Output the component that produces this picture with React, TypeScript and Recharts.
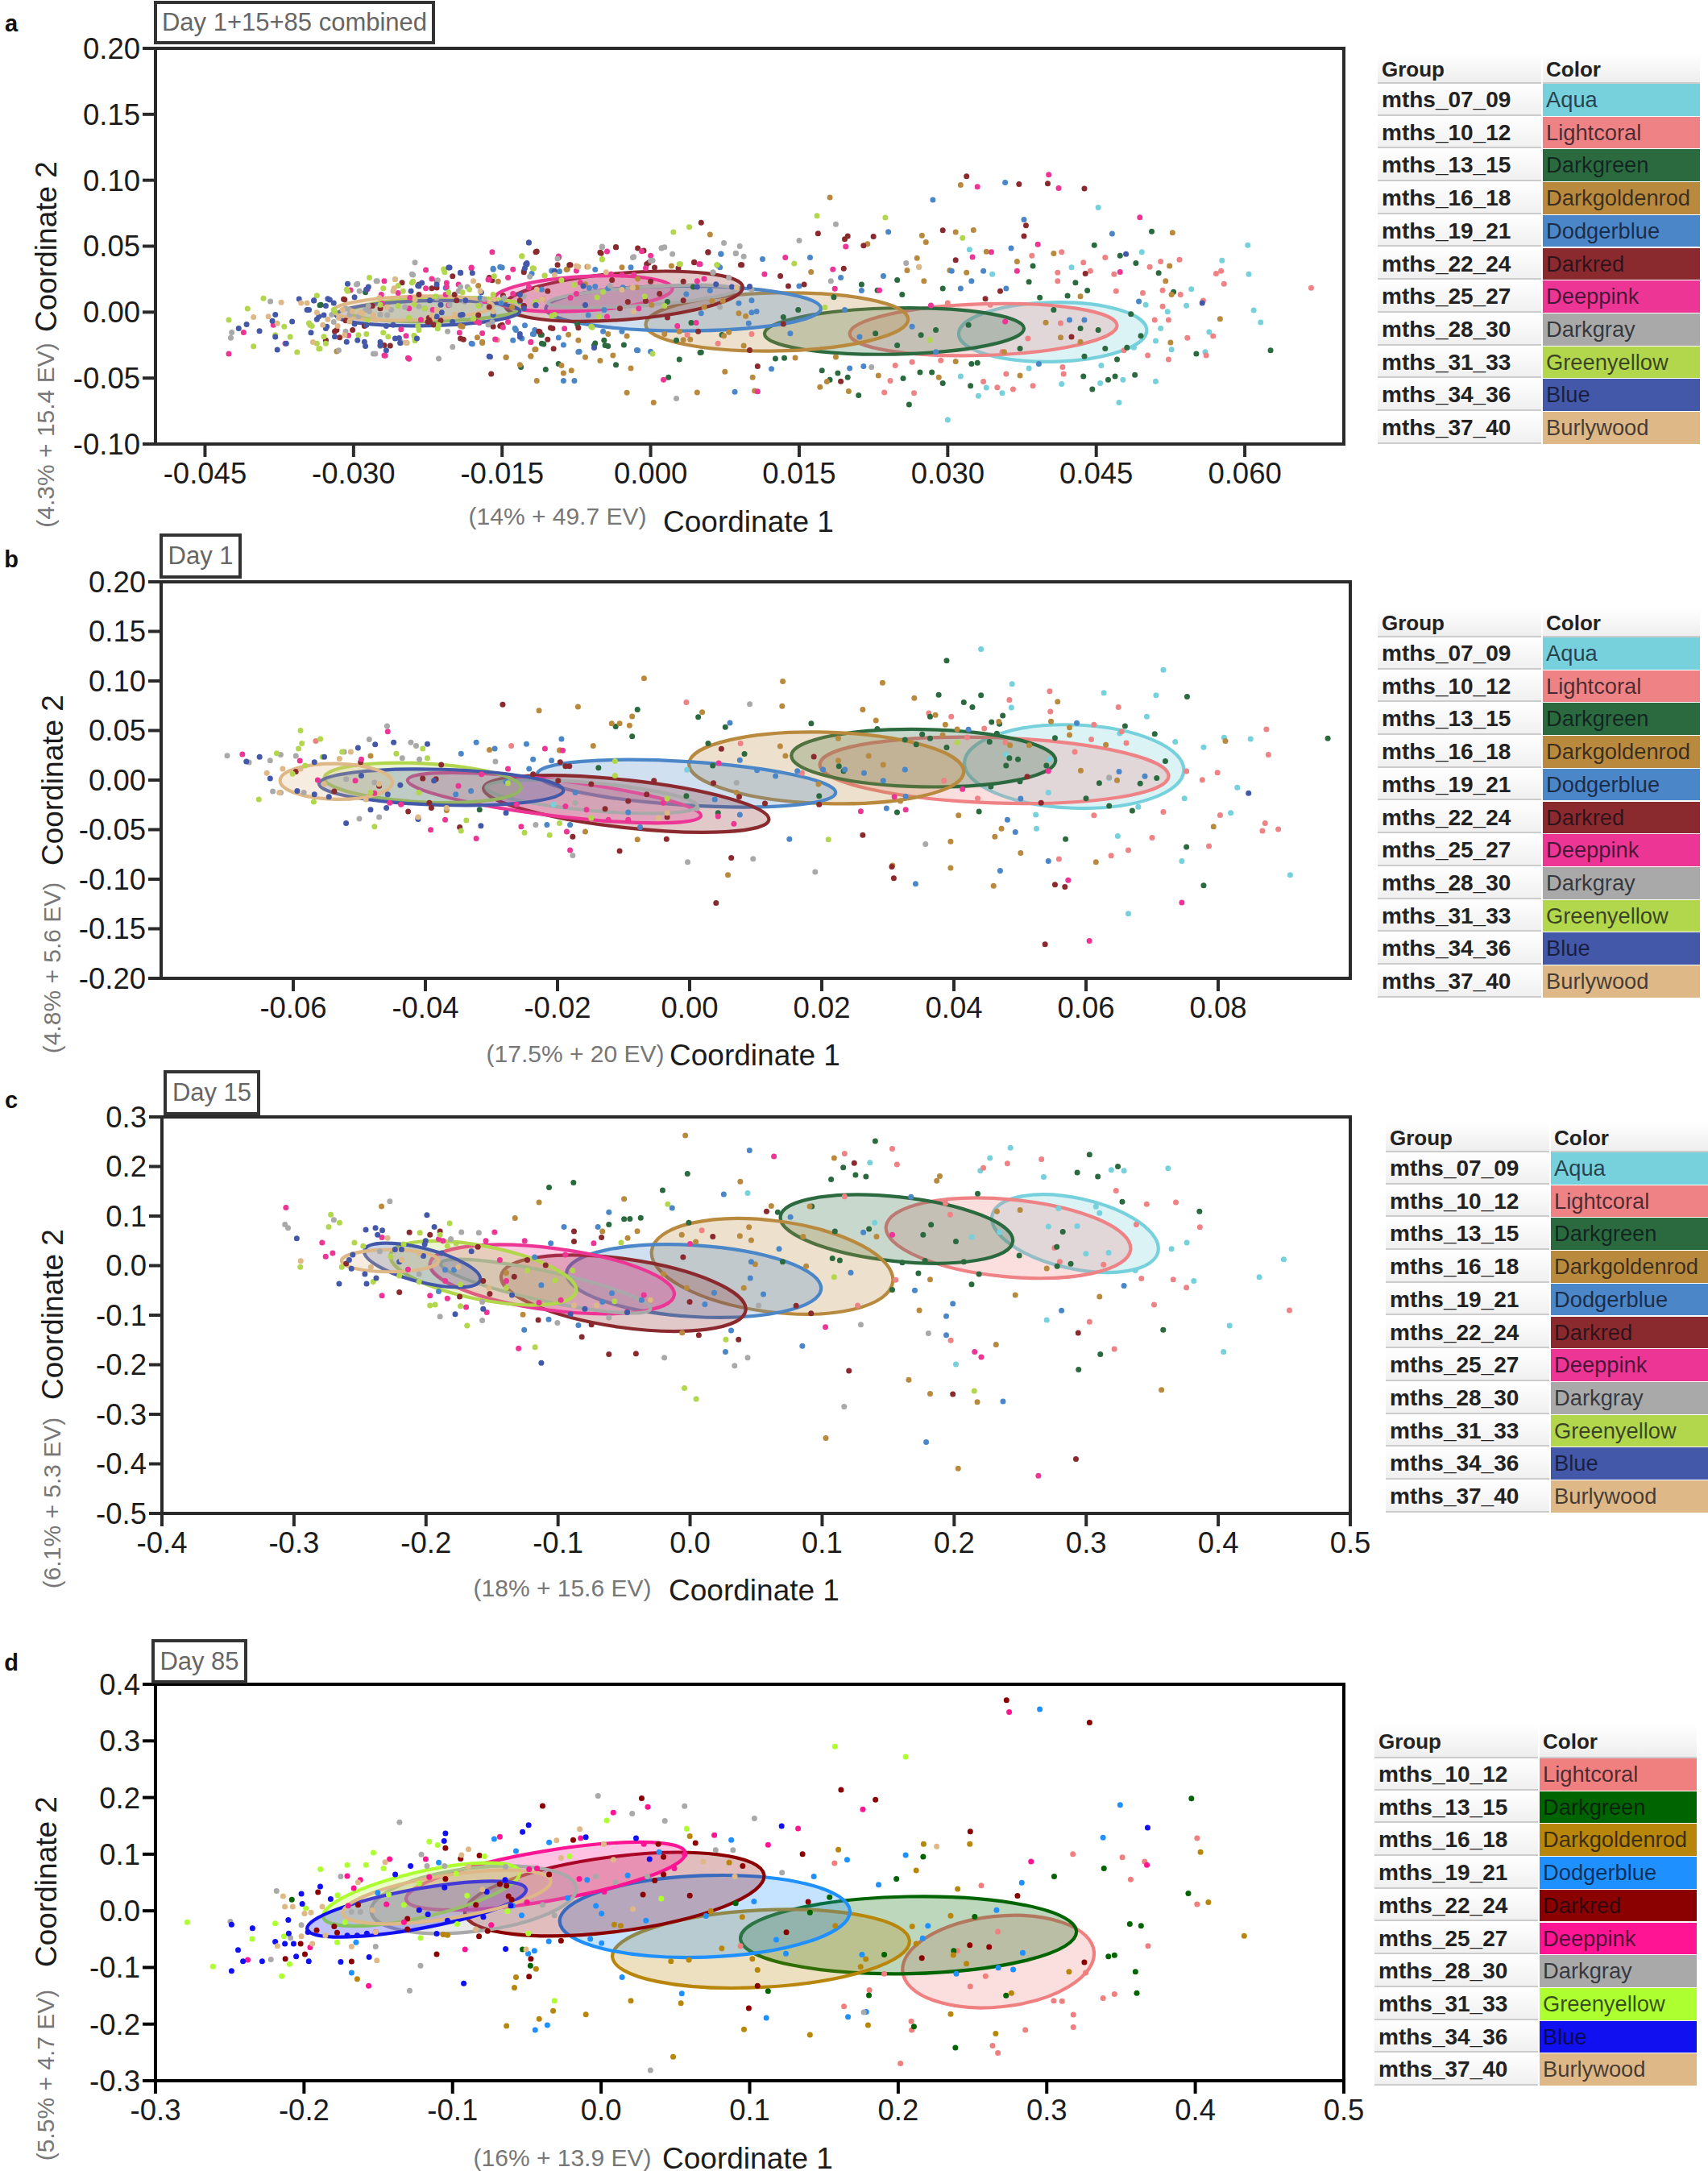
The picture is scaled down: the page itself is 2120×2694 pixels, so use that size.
import React from 'react';
import { ScatterChart, Scatter, XAxis, YAxis, ReferenceArea } from 'recharts';

type Pt = number[];

const groupNames = ['mths_07_09', 'mths_10_12', 'mths_13_15', 'mths_16_18', 'mths_19_21', 'mths_22_24', 'mths_25_27', 'mths_28_30', 'mths_31_33', 'mths_34_36', 'mths_37_40'];
const colorNames = ['Aqua', 'Lightcoral', 'Darkgreen', 'Darkgoldenrod', 'Dodgerblue', 'Darkred', 'Deeppink', 'Darkgray', 'Greenyellow', 'Blue', 'Burlywood'];
const mutedColors = ['#76d1dd', '#ee8285', '#2b6a3f', '#b98a3e', '#4a86c8', '#8a2a2e', '#ec3594', '#a9a9a9', '#b2d64c', '#4358a8', '#deb887'];
const pureColors = ['#76d1dd', '#f08080', '#006400', '#b8860b', '#1e90ff', '#8b0000', '#ff1493', '#a9a9a9', '#adff2f', '#1010f0', '#deb887'];

// ---------- panel a ----------
const aAqua: Pt[] = [[.0603,.0507],[.0452,.0794],[.0577,.0392],[.0604,.0287],[.0609,.0015],[.0616,-.0077],[.0496,.0456],[.0546,.0174],[.0541,.0049],[.0522,.0003],[.0515,-.0123],[.051,-.0218],[.0526,-.0284],[.051,-.0525],[.0473,-.0686],[.03,-.0817],[.0415,-.0545],[.0331,-.0635],[.0355,-.0614],[.0339,-.0573],[.0313,-.0486],[.0477,-.0512],[.0454,-.0538],[.0382,-.0425],[.0455,-.0404],[.0322,.0474],[.0425,.034],[.0345,.0287],[.056,-.0302],[.0564,-.0151],[.05,.0056],[.0488,-.0269]];
const aCoral: Pt[] = [[.0667,.0184],[.0576,.0312],[.0571,.0292],[.0579,.0215],[.0558,.0087],[.0568,-.0182],[.0561,-.0328],[.0542,-.0195],[.0523,-.0358],[.0502,-.0328],[.0523,-.0059],[.0509,-.0059],[.0517,.0044],[.0535,.0133],[.0517,.0166],[.0497,.0146],[.0534,.0397],[.0515,.0384],[.0504,.0343],[.0459,.0415],[.0468,.0287],[.047,.0159],[.0444,.0312],[.0437,.0376],[.0411,.03],[.0411,.0235],[.0415,.0456],[.0385,.0428],[.0416,-.0417],[.0417,-.0468],[.0386,-.0558],[.0366,-.0584],[.035,-.0571],[.0359,-.0468],[.0336,-.0527],[.0266,-.0614],[.0236,-.0609],[.0242,-.052],[.0247,-.0404],[.0264,-.0379],[.03,.0069],[.0343,.0056],[.0414,-.0084],[.0381,-.02],[.0355,-.0302],[.0293,-.0366],[.0478,-.0289],[.0037,-.0172],[.0068,-.0238],[.0102,-.0166],[-.0155,-.0211]];
const aGreen: Pt[] = [[.0626,-.0289],[.0551,-.0315],[.0528,.0154],[.0513,.0297],[.049,.0371],[.0474,.0428],[.0506,.0612],[.0448,.0507],[.0441,.0164],[.0429,.0223],[.0421,.0125],[.0393,.011],[.0386,.0351],[.0382,.023],[.0485,-.0015],[.0495,-.0179],[.0481,-.0269],[.0471,-.0358],[.0489,-.0476],[.0469,-.0486],[.0462,-.0512],[.0446,-.0584],[.0437,-.0486],[.0459,-.0276],[.0438,-.0335],[.0434,-.0123],[.0452,-.0136],[.0407,.0018],[.0373,-.0276],[.033,-.0384],[.0324,-.0392],[.0323,-.0558],[.0295,-.0538],[.0284,-.0456],[.0272,-.0456],[.0261,-.0701],[.0255,-.0502],[.021,-.063],[.0199,-.0494],[.0189,-.0463],[.0181,-.0512],[.0173,-.0443],[.0273,-.0174],[.0321,-.0097],[.0288,-.0136],[.0249,-.0251],[.0227,-.0161],[.0213,.021],[.0249,.0243],[.0254,.0133],[.0295,.0179],[.0229,.0166],[.0185,.0113],[.0149,.0018],[.0134,-.0038],[.0135,-.0348],[.0126,-.0353],[.005,-.0307],[-.0106,-.0435],[-.0131,-.0417],[-.0093,-.0392],[-.011,-.0238],[-.0046,-.0251],[-.0057,-.0251],[-.0035,-.04],[.0029,-.0358],[.0018,-.0494],[-.0333,.0056],[-.0334,.0052],[-.0288,.015],[-.011,-.0172],[-.0108,-.0242],[.0043,.0191],[.0017,.0079],[.0041,-.008],[.0072,-.0172],[.0026,-.0213],[.0051,-.0305],[-.0056,-.0237],[-.0047,-.0213],[-.0043,-.0258],[-.0027,-.0248],[-.0074,-.0091],[-.0111,-.0172]];
const aGold: Pt[] = [[.0181,.087],[.0313,.0965],[.0527,.0602],[.0575,-.0051],[.0524,.0351],[.052,.0236],[.0525,-.023],[.0434,.012],[.037,.0384],[.0407,.0445],[.0339,.0458],[.0302,.0317],[.0319,.03],[.0308,.0607],[.0326,.0622],[.0274,.0581],[.0278,.053],[.0269,.041],[.0259,.0317],[.0276,.0236],[.006,.0589],[.0162,.0305],[.0219,.0517],[.0526,.0133],[.0434,-.0225],[.0414,-.0192],[.0399,-.0079],[.0357,-.0302],[.0291,-.0494],[.0308,-.0374],[.0373,-.0481],[.023,-.0481],[.02,-.06],[.0171,-.0568],[.0178,-.0527],[.0103,-.0494],[.0105,-.0596],[.0075,-.0451],[.0047,-.0609],[.0146,-.0346],[.0187,-.034],[-.0024,-.061],[.0003,-.0686],[-.0088,-.0463],[-.008,-.0443],[-.0115,-.0521],[-.009,-.0405],[-.0146,-.0341],[-.0121,-.0333],[-.0132,-.04],[-.0066,-.0341],[-.0051,-.0367],[-.0038,-.0328],[-.017,-.0225],[-.019,-.011],[-.002,-.0425],[-.0317,-.0297],[-.0084,.0326],[-.0064,.0344],[-.0192,-.0105],[-.0175,-.0192],[-.017,-.0233],[-.0146,-.0343],[-.0121,-.0335],[-.0116,-.0282],[-.0154,.0232],[-.0174,.0201],[-.014,.0038],[-.0029,.034],[-.0085,.0323],[.0021,.035],[-.0066,.0211],[-.0014,.0187],[-.0013,.0252],[.0001,.0054],[.0054,.0038],[.0062,.0085],[.0073,.0085],[.0089,-.0009],[.0096,-.003],[-.0043,-.0166],[-.0024,-.0182],[-.0083,-.017],[-.0073,-.0213],[.0014,-.0166],[.0029,-.0146],[.0033,-.0211],[.004,-.0207],[.0074,-.018],[.0079,-.0152],[.0094,-.0254],[-.0117,-.0283]];
const aDodger: Pt[] = [[.0285,.0851],[.0358,.0983],[.0377,.0701],[.0466,.0594],[.0364,.0484],[.0336,.0312],[.024,.0609],[.0161,.0415],[.0113,.0402],[.0192,.0261],[.0235,.0274],[.0313,.0179],[.0359,.0179],[.0304,.0312],[.0324,.0236],[.0423,-.0059],[.0438,-.0059],[.0493,.0082],[.0213,.0164],[.0196,.0018],[.0141,-.0161],[.0122,-.043],[.0085,-.0604],[.0201,-.0425],[.0215,-.041],[.0071,.044],[.015,.0197],[.0107,.0005],[.0264,-.011],[.0392,-.0392],[.0288,-.0302],[.0211,-.0187],[-.0077,-.052],[-.0088,-.052],[-.0181,-.0238],[-.0137,-.0123],[-.0013,-.0289],[-.0073,-.0302],[-.0159,.0325],[-.0099,.0312],[-.015,.0338],[-.0062,.0184],[-.011,.0172],[-.013,-.02],[-.0117,-.0136],[-.0172,.0108],[-.0207,.0184],[-.0132,.0082],[-.0159,.033],[-.0152,.0342],[-.0139,-.0213],[-.018,-.0241],[-.0136,-.0135],[-.0118,-.0166],[-.0151,.0069],[-.0128,.0313],[-.0123,.0527],[.0071,.0442],[-.0056,.0323],[-.002,.034],[.0068,.0354],[.007,.034],[-.01,.0313],[-.0092,.0309],[-.012,.0293],[-.0056,.0195],[-.0028,.0187],[-.0043,.0181],[.006,.0164],[.0036,.0136],[-.0047,.0017],[-.0063,-.0023],[.0051,-.0009],[.0089,.0068],[.0102,.0089],[.0102,-.0003],[-.0127,-.0101],[-.0119,-.0166],[-.0093,-.0193],[-.0088,-.0248],[-.0048,-.0146],[-.0029,-.0146],[-.0072,-.0299],[-.0014,-.0288],[0,-.0299],[.0099,-.0085]];
const aRed: Pt[] = [[.0319,.103],[.0372,.097],[.0401,.0975],[.0438,.0937],[.0379,.0658],[.0377,.0576],[.0295,.062],[.0169,.0596],[.0196,.0553],[.0199,.0576],[.0225,.0573],[.0215,.0504],[.0051,.0678],[.0058,.0453],[.0092,.0358],[.0131,.0274],[.0195,.033],[.0044,.0376],[.0308,.0394],[.0439,.0292],[.0353,.0159],[.0338,.0102],[.0425,-.0187],[.0139,.0197],[.0155,.021],[.0134,-.009],[.0108,-.041],[.0192,-.0525],[-.0116,.0456],[-.0035,.0492],[-.0051,.0453],[-.0013,.0484],[-.0007,.0466],[-.0093,.0415],[-.0082,.0358],[-.0161,-.0469],[-.0192,-.02],[-.0099,-.0123],[-.0112,-.0149],[-.0223,-.0072],[-.0216,.0185],[-.0234,.021],[-.0269,-.0251],[-.0317,-.0136],[-.0309,.0095],[-.0251,.0223],[-.0328,-.0213],[-.015,-.0097],[-.0163,.0262],[-.0198,.0133],[.0004,.0338],[-.0004,.0364],[-.031,.0099],[-.0221,.0181],[-.0234,.0134],[-.0196,.0089],[-.0163,.0038],[-.0149,.0126],[-.0132,.0089],[-.0128,.0048],[-.0109,.0099],[-.0113,-.0146],[-.0159,-.011],[-.0152,-.0105],[-.0174,-.0023],[-.0212,-.0064],[-.0224,-.0044],[-.0219,-.0095],[-.0225,-.0074],[-.0308,-.0064],[-.0319,-.0146],[-.0314,-.0192],[-.0301,-.0135],[-.0289,-.0105],[-.0263,-.0254],[-.0189,-.0207],[-.02,.0273],[-.016,.0242],[-.0128,.0303],[-.0273,.0028],[-.0281,.0048],[-.0115,.046],[-.0035,.0493],[.0058,.0456],[.0091,.0358],[.0044,.0379],[-.0081,.0358],[-.0094,.0358],[-.005,.0446],[-.0002,.0374],[.0028,.0334],[-.0039,.0243],[0,.0232],[.0033,.0232],[.0009,.014],[.0033,.0089],[-.0005,.0085],[-.0023,.0079],[-.0031,.0028],[-.0104,.016],[.0017,-.004],[.0048,-.0146],[-.0073,-.0119],[-.0101,-.0119],[-.0104,-.0207],[-.0098,-.0278],[.01,-.0288],[-.0128,.0048]];
const aPink: Pt[] = [[.0402,.1043],[.033,.095],[.0412,.094],[.0494,.0719],[.0391,.0514],[.0344,.0456],[.0325,.0417],[.037,.0312],[.0474,.0305],[.0197,.0497],[.0136,.0415],[.0184,.0325],[.0115,.0287],[.0186,.0177],[.0231,.0166],[.0108,-.0602],[.005,.0364],[.0283,.0051],[.0358,-.0072],[-.016,.0456],[-.0093,.0423],[-.0227,.032],[-.0181,.0338],[-.0163,.0248],[-.0245,-.0348],[-.0269,-.0328],[-.0426,-.0315],[-.0411,-.0154],[-.0381,-.0097],[-.0369,-.0238],[-.0216,.0236],[-.0194,.021],[-.0157,-.0205],[0,.0428],[-.0269,.0236],[-.0287,.0172],[-.0207,.0133],[-.0176,-.0072],[-.004,.0287],[-.0071,.0223],[.0013,-.0513],[-.0221,.0252],[-.0206,.0222],[-.0206,.0191],[-.0181,.0334],[-.0139,.0324],[-.0144,.0262],[-.0164,.0246],[-.0255,.0146],[-.0286,.0175],[-.0303,.0167],[-.0272,.0134],[-.0243,.0109],[-.0227,.0181],[-.022,.0018],[-.0244,.0028],[-.0204,.0052],[-.0168,.0083],[-.0139,.014],[-.0149,-.0115],[-.0173,-.008],[-.0144,-.0074],[-.0123,.0187],[-.0232,-.0058],[-.0252,-.0131],[-.0247,-.018],[-.0305,-.0176],[-.0268,-.0329],[-.0244,-.0354],[-.0193,-.0156],[-.017,-.016],[-.0121,-.0227],[-.0271,.0064],[-.0285,.0018],[-.0044,.046],[-.0009,.0462],[.0049,.0364],[.0027,-.0105],[.0046,-.008],[-.0005,.0334],[-.0075,.0313],[-.0123,.0187],[-.0081,.0109],[-.0075,.014],[-.0012,.0028],[-.0044,-.0034],[.0054,.0252],[.0047,.0236],[-.0029,.0283],[-.0017,.0283],[-.0121,-.0227],[-.0087,-.0125]];
const aGray: Pt[] = [[.0187,.0666],[.015,.0543],[.0074,.0525],[.009,.05],[.0086,.0445],[.0094,.0422],[.0182,.0235],[.0258,.0371],[.0271,.0343],[.0063,.03],[.0223,-.0417],[-.0238,.0376],[-.0241,.0287],[-.0049,.0492],[-.0018,.0415],[0,.039],[.0011,.0484],[.0022,.044],[.0026,-.0655],[-.0214,-.0353],[-.02,-.0264],[-.028,-.0315],[-.0315,-.029],[-.0423,-.0154],[-.0424,-.0195],[-.0384,.0082],[-.0297,.021],[-.0277,.0236],[-.0252,-.0226],[-.0304,-.002],[-.0295,-.0033],[-.0284,.0005],[-.0273,-.002],[-.0234,.0044],[-.0216,.0108],[-.0194,.0159],[-.0172,.0056],[-.0203,.0056],[-.0322,-.002],[-.0296,.0215],[-.0276,.0236],[-.0294,.016],[-.024,.0283],[-.0215,.0242],[-.032,-.0074],[-.0308,-.0146],[-.0278,-.0315],[-.0273,-.0258],[-.0252,-.0233],[-.0205,-.0146],[-.0164,-.0095],[-.0122,.0269],[-.0185,.0191],[-.0192,.0191],[-.016,-.0074],[-.0266,-.0023],[-.0285,.0048],[-.0304,.0018],[-.0308,.0028],[-.0288,.0018],[-.0262,.0018],[-.0248,.0038],[-.0228,.0028],[-.0212,.0058],[-.0188,.0078],[-.0168,.0098],[-.0148,.0108],[-.0128,.0118],[-.0049,.0497],[.0011,.0487],[.0014,.0493],[-.0017,.0419],[.0002,.0391],[-.0094,.0405],[.0086,.0446],[.0063,.0303],[.0079,.0262],[.007,.0038],[.0102,.017],[-.0041,.0201],[-.0097,.0293]];
const aLime: Pt[] = [[.0168,.073],[.0237,.0717],[.0039,.0645],[.0315,.0563],[.0145,.0369],[.0067,.0358],[.0176,.0036],[.0282,-.0212],[.0023,.0607],[-.0049,.0402],[-.013,.0423],[.0029,.0364],[-.0391,.0105],[-.0407,.0026],[-.0426,-.0059],[-.0401,-.0259],[-.0379,-.0174],[-.037,-.011],[-.0364,-.0187],[-.0357,-.0303],[-.0344,-.0097],[-.0335,-.0277],[-.0328,-.0238],[-.0337,.0126],[-.032,.0018],[-.0306,.0159],[-.0284,.0262],[-.0258,.0249],[-.0241,.0223],[-.0238,-.02],[-.0209,.0326],[-.0183,.0172],[-.0159,.0133],[-.0097,-.002],[-.006,-.011],[.0002,-.0315],[-.0214,-.0097],[-.0295,-.0174],[-.0273,.0056],[-.0307,.0171],[-.027,.0181],[-.0255,.0201],[-.024,.0232],[-.025,.016],[-.0208,.0303],[-.0319,.0007],[-.0345,-.0084],[-.0342,-.0105],[-.033,-.0186],[-.0337,-.0238],[-.0334,-.0278],[-.0286,-.0064],[-.0255,.0048],[-.0244,-.0044],[-.0239,.0058],[-.0228,.0028],[-.0215,-.0125],[-.0235,-.0105],[-.0234,-.0135],[-.027,-.0156],[-.0265,-.0186],[-.0239,-.0176],[-.0238,-.0217],[-.0287,-.0166],[-.0217,.012],[-.0204,.015],[-.019,.015],[-.0174,.0048],[-.0179,-.005],[-.0118,.033],[-.0107,.0277],[-.0158,.0273],[-.0116,.0079],[-.013,.0425],[-.0049,.0399],[.003,.0364],[-.0119,.0334],[.0067,.0358],[-.0107,.0277],[-.009,.0242],[-.0077,.0207],[-.0048,.0154],[-.0054,.0112],[-.0006,.0119],[.0014,.0048],[-.01,-.0029],[-.0052,-.0033],[-.0059,-.0115],[-.0117,.0058]];
const aBlue: Pt[] = [[-.0123,.0528],[-.0126,.0364],[-.0163,-.0336],[-.0204,.0338],[-.0192,.03],[-.0216,.021],[-.0234,.0197],[-.0306,.0215],[-.0287,.0172],[-.0355,.01],[-.034,.0087],[-.0326,.0102],[-.0347,.0018],[-.0335,-.0033],[-.0362,-.0072],[-.0382,-.0067],[-.0379,-.002],[-.0408,-.0092],[-.0416,-.0123],[-.0395,-.0143],[-.0379,-.0187],[-.0377,-.0285],[-.0368,-.0238],[-.0328,-.0123],[-.0307,-.0226],[-.0289,-.0226],[-.0267,-.029],[-.0273,-.0251],[-.0258,-.02],[-.0236,-.02],[-.0287,-.0097],[-.026,-.0097],[-.0216,-.0033],[-.019,-.002],[-.0159,-.002],[-.0132,.0133],[-.0212,.0056],[-.0097,.0312],[-.0068,.0197],[.0557,.0069],[.048,.044],[-.0299,.0113],[-.034,.0089],[-.0328,.0048],[-.0324,.0093],[-.032,.0069],[-.0345,.0018],[-.033,-.0023],[-.0337,-.0054],[-.0343,-.0156],[-.0327,-.011],[-.0319,-.0186],[-.0296,-.0213],[-.0288,-.0258],[-.0273,-.0227],[-.0254,-.0196],[-.0253,-.0233],[-.0267,-.0105],[-.0299,-.009],[-.0285,.0191],[-.0242,.016],[-.0231,.0222],[-.0235,.0201],[-.0223,.0089],[-.0211,-.0003],[-.0192,-.0023],[-.02,-.0074],[-.0187,.0089],[-.0171,.015],[-.0128,.0028],[-.0116,.0052],[-.0132,-.0166],[-.0192,.0297],[-.018,.0297],[-.0203,.0338],[-.0125,.0371],[-.0162,-.0339],[-.0066,.0054],[.0047,.0191],[.0066,.0211],[.0082,.0191],[.01,.0195],[-.0125,.0364],[-.0127,.0334],[-.0116,.0052],[-.0132,-.0187],[-.0057,-.027]];
const aBurly: Pt[] = [[-.0373,.0074],[-.0401,-.0038],[-.0386,-.0033],[-.0247,-.0231],[-.0258,.0249],[-.0309,-.0174],[-.0304,-.0072],[-.0291,-.0008],[-.0278,-.0059],[-.026,.0159],[-.0238,.0095],[-.0216,.0018],[-.0198,-.002],[-.0172,.0159],[-.0075,.0351],[-.0115,.0172],[-.0159,.0005],[-.0331,-.0097],[-.0353,.0069],[-.0377,-.0085],[-.011,.0095],[-.0018,.0185],[.0271,.0343],[-.0347,.0069],[-.0337,-.0003],[-.0315,-.0044],[-.0316,-.0105],[-.0301,.0007],[-.0293,-.0003],[-.028,-.0023],[-.0266,.0038],[-.0341,-.0227],[-.0246,-.0233],[-.0259,.0181],[-.0221,-.0023],[-.0179,.0236],[-.0274,.0109],[-.0158,.0099],[-.0311,.0018],[-.0326,-.0054],[-.0073,.0344],[-.0063,.0344],[-.0045,.0303],[-.0029,.017],[-.0017,.0003],[-.0109,.0099],[-.0097,.0283],[.0087,.0187]];
// centre x, centre y, major half-axis x, major half-axis y, minor half-axis
const aEllipses: Pt[] = [[.0406,-.0151,.0095,.0015,.0225],[.0336,-.0133,.0135,.0032,.0195],[.0246,-.0144,.0131,.002,.0175],[.01275,-.0074,.01325,.002,.022],[.0033,.0028,.0139,0,.017],[-.0027,.012,.012,.007,.0177],[-.0068,.014,.009,.004,.013],[-.0009,.012,.0095,.005,.007],[-.0216,.002,.0088,.002,.009],[-.0225,-.0008,.0093,.0015,.0095],[-.024,.003,.0081,.002,.009]];

// ---------- panel b ----------
const bAqua: Pt[] = [[.0441,.1321],[.0717,.1112],[.0488,.0969],[.0627,.088],[.0706,.0856],[.0487,.0732],[.0692,.064],[.0735,.0387],[.0778,.0332],[.0809,.0428],[.0849,.0414],[.0829,-.0075],[.0819,-.0332],[.0749,-.0185],[.0679,-.027],[.0648,-.0565],[.0745,-.0818],[.0909,-.0958],[.0664,-.1348],[.0525,-.0489],[.0524,-.0349],[.0543,-.0127],[.0479,.026],[.0545,.0209],[.0635,.0021],[.0651,.0472],[-.0004,.0103],[-.0206,-.0246]];
const bCoral: Pt[] = [[.0545,.0897],[.0484,.0808],[.0546,.0691],[.0649,.0736],[.0873,.0513],[.0876,.0257],[.0661,.0373],[.0608,.0411],[.0612,.0558],[.0654,.0489],[.0396,.064],[.0362,.0674],[.0446,.052],[.0077,.037],[.0583,.0284],[.0478,.038],[.042,.0431],[-.0005,.0784],[.0752,.0089],[.0799,.0075],[.0776,.0003],[.0717,-.0322],[.0803,-.0353],[.0612,-.0356],[.0871,-.0435],[.0867,-.0513],[.0891,-.0496],[.07,-.0582],[.0786,-.0667],[.0664,-.0708],[.0638,-.0763],[.0559,-.0797],[.0436,-.0185],[.0385,-.0007],[.017,.0072],[-.027,.0346],[-.0566,.0394],[-.0196,.0301]];
const bGreen: Pt[] = [[.0389,.1205],[.0377,.0859],[.0441,.0856],[.0415,.0784],[.0428,.0736],[.0474,.065],[.0457,.0585],[.0469,.0568],[.0364,.064],[.0753,.0842],[.0659,.0544],[.0704,.0465],[.0553,.0424],[.0013,.0637],[.0054,.0534],[.0184,.0572],[.0028,.037],[.0083,.0264],[.0035,.0147],[.0284,.0517],[.0352,.0462],[.0364,.0421],[.0326,.0407],[.0343,.0359],[.0389,.0329],[.0454,.0387],[.0465,.0469],[.0479,.0147],[.0484,.0222],[.0497,.0209],[.054,.0147],[.0456,-.0065],[.05,-.0014],[.072,.0192],[.0707,.0021],[.0682,-.0034],[.062,-.0031],[.06,-.0185],[.0635,-.026],[.067,-.0308],[.0569,-.0595],[.0752,-.0674],[.0778,-.1064],[.0314,-.0325],[.0438,-.0318],[.0226,.014],[.0233,.0092],[.0196,-.0161],[.0043,-.0332],[-.0005,-.0161],[-.0079,.0712],[-.0112,.0541],[-.0087,.0441],[-.0138,.0123],[-.0318,-.0298],[.0966,.0421]];
const bGold: Pt[] = [[.0141,.0996],[.014,.0746],[.0292,.0982],[.034,.0828],[.0262,.0712],[.0282,.0602],[.0372,.0657],[.0557,.0791],[.0547,.0592],[.0575,.053],[.0575,.0455],[.063,.0356],[.0387,.0558],[.0405,.0513],[.0468,.0589],[.0514,.0352],[.0485,.0352],[.0383,.0455],[.0019,.0684],[.0137,.0342],[.0145,.0243],[.0225,.0421],[.0225,.0198],[.0271,.0243],[.0293,.0154],[.0592,.0096],[.0647,-.0003],[.0793,-.0469],[.0811,.0394],[.0472,-.0489],[.0462,-.0572],[.0407,-.0356],[.0395,-.0619],[.0395,-.0886],[.0501,-.0736],[.0615,-.0828],[.046,-.1068],[.0058,-.0958],[.0307,-.0862],[.0195,-.0041],[.0071,-.0127],[.0319,-.0212],[-.0069,.1027],[-.0169,.0739],[-.0228,.0702],[-.0087,.0643],[-.0118,.0572],[-.0106,.0572],[-.0091,.0551],[-.0146,.0346],[-.0303,.0305],[-.0197,.0301],[-.0158,-.052],[-.0079,-.0599],[-.0368,-.0305],[-.0411,-.0383],[-.0483,.0243]];
const bDodger: Pt[] = [[.0061,.0578],[.0586,.0575],[.0422,.051],[.0076,.0202],[.0102,.0099],[.013,.0041],[.0163,.0092],[.0202,.0106],[.0235,.0106],[.0264,.0072],[.0293,-.0007],[.0326,.0106],[.0327,-.0164],[.0298,-.0284],[.0038,-.0195],[.0076,-.0349],[.0151,-.0595],[.0342,-.1047],[.047,-.0914],[.0543,-.0818],[.0493,-.0524],[.0481,-.04],[.0501,-.0188],[.065,.0086],[.0689,.0038],[-.0323,.038],[-.0346,.0267],[-.0247,.0363],[-.0194,.0414],[-.0295,.0318],[-.0237,.0209],[-.0209,.0198],[-.0243,.0113],[-.0331,-.011],[-.0354,-.0144],[-.0173,-.0127],[-.0216,-.0452],[-.0181,-.0452],[-.0075,-.0476],[-.0093,-.0325],[-.0278,-.0017]];
const bRed: Pt[] = [[.0048,.0315],[.0188,.0236],[.0036,-.0031],[.0075,-.0168],[.0114,-.0236],[.0196,-.0246],[.0511,.0034],[.0532,-.0229],[.0262,-.0554],[.0063,-.0784],[.004,-.1239],[.0306,-.0873],[.0309,-.0989],[.0553,-.1054],[.0568,-.1078],[.0538,-.1656],[-.0283,.0763],[-.0196,.0181],[-.0188,.014],[-.0182,.014],[-.0376,.0154],[-.0498,.0181],[-.0596,.0086],[-.0538,-.0113],[-.047,-.0058],[-.0394,-.0229],[-.0391,-.0281],[-.0426,-.0318],[-.0404,.0017],[-.0384,.001],[-.0348,-.0476],[-.0177,-.0572],[-.0106,-.0715],[-.0035,-.0595],[-.0034,-.0373],[-.0128,-.0291],[-.0065,-.0144],[-.0093,-.0212],[-.0149,-.0041],[-.0237,.0058],[-.0054,-.0007],[-.0199,-.0007]];
const bPink: Pt[] = [[.0605,-.1622],[.0745,-.1235],[.0573,-.101],[.0543,.0092],[.0044,.0171],[.0259,-.0315],[.0327,-.0298],[.031,-.0168],[.0413,-.0092],[.0043,-.0366],[.0067,-.0441],[-.0677,.026],[-.0457,.0489],[-.0497,.0209],[-.059,.0195],[-.0563,0],[-.0506,-.0007],[-.0477,-.0133],[-.0454,-.0229],[-.0437,-.0246],[-.037,-.04],[-.0392,-.0503],[-.0323,-.0589],[-.0255,-.0469],[-.0186,-.052],[-.0181,-.0708],[-.0219,.0318],[-.0192,.0298],[-.0275,.0113],[-.035,-.0058],[-.0315,.0058],[-.0262,-.0246],[-.0188,-.0264],[-.0156,-.0298],[-.0093,-.04],[-.0123,-.04],[-.004,-.0229]];
const bGray: Pt[] = [[.0091,.0767],[.0071,-.0027],[.0011,-.0287],[-.0003,-.0828],[.0096,-.0794],[.019,-.0927],[.0357,-.0647],[.0635,.0027],[-.07,.0246],[-.0667,.0178],[-.0619,.0257],[-.0635,.0198],[-.0631,-.0113],[-.0619,-.0127],[-.0596,.0243],[-.0584,-.0127],[-.0523,.0284],[-.0485,.0411],[-.0458,.0544],[-.05,-.039],[-.047,-.0373],[-.0422,.038],[-.0414,.0346],[-.0435,.0222],[-.0409,.0209],[-.0294,.0188],[-.0233,-.0452],[-.0177,-.076],[-.0477,-.0024],[-.052,.001],[-.0173,-.0229]];
const bLime: Pt[] = [[.021,-.0599],[.0405,.038],[-.0589,.05],[-.0559,.0414],[-.0587,.037],[-.0625,.027],[-.0592,.0318],[-.0652,-.0195],[-.0569,-.0219],[-.0601,.0062],[-.0582,.0147],[-.0556,.0233],[-.0526,.0284],[-.0444,.0267],[-.0404,.0318],[-.0397,.0222],[-.0477,-.0469],[-.0346,-.0513],[-.0338,-.0407],[-.025,-.053],[-.0212,-.0554],[-.0197,-.0435],[-.0149,-.0383],[-.0113,.0192],[-.0113,.0044],[-.0034,-.0188],[-.041,-.0127],[-.0483,-.0127],[-.0275,-.0031]];
const bBlue: Pt[] = [[.0846,-.0133],[-.0671,.0188],[-.0651,.0233],[-.0635,.0017],[-.0594,-.011],[-.0568,-.0144],[-.0568,.0181],[-.0553,.0233],[-.0546,-.0168],[-.052,-.0435],[-.0502,.0325],[-.0476,.0359],[-.0448,.038],[-.0397,.0363],[-.0483,-.0298],[-.0459,-.0281],[-.0457,-.0144],[-.0438,-.0051],[-.0411,-.0394],[-.0316,-.0462],[-.0278,-.0332],[-.0387,-.0007],[-.0497,.0044]];
const bBurly: Pt[] = [[-.064,.0072],[-.0621,-.0127],[-.0616,.0113],[-.0513,.0284],[-.0553,-.0041],[-.047,-.0041],[-.0411,-.0373],[-.0368,-.0281],[-.0589,.0113],[-.053,.0216],[-.049,-.0195],[-.0047,-.0383],[-.0034,-.0332]];
const bEllipses: Pt[] = [[.0582,.0137,.0166,-.004,.042],[.0461,.0099,.0264,-.006,.033],[.0354,.0222,.02,-.0025,.029],[.0207,.0123,.0208,-.004,.036],[-.0005,-.0034,.0226,-.0094,.022],[-.0096,-.024,.0216,-.016,.024],[-.0205,-.018,.0222,-.018,.018],[-.0148,-.0168,.016,-.0095,.014],[-.0404,-.0027,.0149,-.005,.0195],[-.0376,-.0072,.0185,-.0034,.018],[-.0535,-.0014,.0085,-.001,.018]];

// ---------- panel c ----------
const cAqua: Pt[] = [[.2426,.238],[.2271,.2169],[.2198,.1915],[.2678,.1789],[.319,.193],[.3286,.1915],[.362,.1965],[.1362,.2077],[.0436,.1465],[.1398,.0866],[.279,.1155],[.3074,.119],[.3101,.1063],[.2714,.0789],[.2932,.0796],[.2132,.0577],[.2344,.0676],[.2998,.0239],[.317,.0261],[.3372,-.0099],[.3646,.0338],[.3762,.0465],[.4496,.0127],[.4311,-.0232],[.3815,-.031],[.4086,-.1211],[.404,-.1739],[.2701,-.1099],[.2013,-.1993]];
const cCoral: Pt[] = [[.1531,.2359],[.117,.2261],[.1567,.2042],[.2221,.1972],[.2403,.2063],[.2661,.2148],[.3226,.1514],[.3458,.1239],[.3679,.1275],[.3379,.0831],[.3861,.0775],[.3131,.0021],[.3418,-.0261],[.3659,-.0282],[.3759,-.0444],[.3514,-.0789],[.4539,-.0901],[.3025,-.1134],[.3213,-.1683],[.1974,-.1507],[.1269,-.0803],[.1557,-.0289],[.197,.1028],[.0089,.0711],[.28,.0077],[.276,.0359],[.1934,.1261],[.117,.1394]];
const cGreen: Pt[] = [[.1402,.2514],[.3025,.2239],[.324,.2],[.2932,.188],[.3088,.1796],[.3273,.1289],[.3858,.1092],[.2178,.1451],[.116,.1979],[.1253,.1831],[.1332,.1796],[.1068,.1739],[.0922,.1197],[.0664,.1077],[-.001,.0866],[-.002,.1852],[.1355,.0739],[.1097,.069],[.1825,.0824],[.1765,.062],[.2013,.0486],[.2823,.0683],[.2777,.038],[.2883,.0035],[.278,-.0014],[.2493,.0204],[.2073,.0077],[.1779,.0099],[.1607,.0063],[.0701,.0077],[.1078,.0148],[.1134,.0106],[.1531,-.0486],[.1729,-.0155],[.2132,-.038],[.2188,-.0169],[.3583,-.1296],[.3107,-.1789],[.2942,-.2099],[-.1068,.1577],[-.0883,.1676],[-.0208,.1521],[-.05,.0937],[-.0456,.0944],[-.0374,.0965],[-.0615,.0831]];
const cGold: Pt[] = [[.1091,.2169],[.1868,.1711],[.1891,.1803],[.038,.1697],[-.0036,.2627],[.0615,.1204],[.0906,.1197],[.2499,.112],[.2324,.1092],[.0446,.0775],[.0377,.0599],[.0463,.0514],[.1412,.0585],[.0856,.0585],[.0493,.0028],[.0879,-.0014],[.0407,-.0451],[.0043,.0479],[.1818,-.0282],[.2701,-.0056],[.2463,-.0592],[.3101,-.0627],[.1736,-.0901],[.2317,-.1592],[.1656,-.2303],[.1818,-.2585],[.2175,-.2754],[.357,-.2507],[.1028,-.3479],[.203,-.4092],[-.0026,-.0451],[-.1144,.1275],[-.1326,.0958],[-.05,.1345],[-.0664,.069],[-.0473,.0556],[-.04,.0697],[-.0063,.062],[-.1266,-.0986],[-.0202,-.0169],[-.0301,-.0697],[-.006,-.1352],[-.1392,-.0148],[-.2337,.1197]];
const cDodger: Pt[] = [[.045,.2324],[.0255,.1437],[.1673,.1387],[.076,.0979],[.1312,.0669],[.0674,.0338],[.0463,.0077],[.1217,-.0141],[.0456,-.0254],[.0555,-.0577],[.0182,-.0549],[.0112,-.0782],[.1702,-.05],[.199,-.0768],[.194,-.1021],[.194,-.1401],[.2813,-.0908],[.0311,-.131],[.0268,-.1739],[.085,-.162],[.1788,-.3563],[.237,-.2739],[.3286,-.0408],[-.0136,.1162],[-.0615,.1077],[-.0698,.0782],[-.0955,.0782],[-.1055,.0451],[-.1177,.0169],[-.1127,-.0394],[-.1256,-.1296],[-.0846,-.1204],[-.1071,-.1085],[-.1855,-.0085],[-.1788,-.0085],[-.1904,-.0521],[-.0367,-.0697],[-.0592,-.0556],[-.0664,-.0732]];
const cRed: Pt[] = [[.1243,.207],[.0579,.1092],[.0172,.0585],[-.0003,-.0732],[.0066,-.1401],[.0367,-.1493],[.0803,-.081],[.0916,-.0965],[.1203,-.212],[.2939,-.1359],[.199,-.2592],[.2922,-.3901],[-.2126,.0669],[-.197,.062],[-.1894,.069],[-.1607,.038],[-.0879,.069],[-.0879,.0486],[-.0671,.057],[-.2605,.0042],[-.2202,-.0535],[-.1745,-.0627],[-.1567,-.031],[-.1517,-.057],[-.1332,-.0225],[-.1094,.0007],[-.1233,.0113],[-.115,-.1099],[-.0747,-.119],[-.082,-.1437],[-.0615,-.1789],[-.041,-.1775],[-.0053,.0169]];
const cPink: Pt[] = [[.0635,.2204],[.1531,.062],[0,.0437],[.1025,-.1239],[.2155,-.1739],[.2205,-.1845],[.2638,-.4239],[-.3061,.1169],[-.2787,.0465],[-.2707,.0254],[-.276,.0183],[-.2334,.057],[-.2334,-.0606],[-.197,-.0606],[-.1904,.0535],[-.1871,.05],[-.1838,-.0662],[-.1696,-.0838],[-.154,-.0944],[-.1481,.0676],[-.1547,.05],[-.1253,.05],[-.1299,-.1669],[-.1441,.0113],[-.1144,-.0746],[-.0979,-.0697],[-.073,.0451],[-.0945,.0218],[-.1392,-.031],[-.035,-.0592],[-.0476,-.093],[-.1855,-.031],[-.2136,-.0077]];
const cGray: Pt[] = [[.1293,-.119],[.0519,-.0803],[.0436,-.1859],[.0337,-.2021],[.1167,-.2845],[.1805,-.1366],[-.2274,.1296],[-.2698,.0923],[-.3068,.0831],[-.3045,.0761],[-.1812,.0535],[-.1732,.0676],[-.16,.0662],[-.1894,-.1028],[-.1574,-.1106],[-.1574,-.0732],[-.1005,-.1155],[-.0195,-.1859],[-.0615,-.1049],[-.235,.0289],[-.2053,-.0169]];
const cLime: Pt[] = [[.1091,-.0232],[.0271,-.1493],[.0046,-.269],[.2152,-.2528],[-.0043,-.2472],[-.0169,.1239],[-.0522,.0465],[-.2721,.1028],[-.2655,.0866],[-.2737,.0782],[-.2952,-.0028],[-.2638,-.0028],[-.2542,.0465],[-.2476,.0394],[-.2046,.0662],[-.1894,.062],[-.1821,.0852],[-.2268,.0183],[-.2169,.043],[-.2202,-.0204],[-.1838,.0394],[-.1772,.0451],[-.24,-.0324],[-.2053,-.0324],[-.197,-.0803],[-.1931,-.0789],[-.1739,-.0817],[-.1689,-.1211],[-.1174,-.1648],[-.1392,-.0451],[-.1233,-.0099],[-.1021,-.0296],[-.0889,-.0099],[-.0572,-.0718],[-.1739,-.038]];
const cBlue: Pt[] = [[-.2979,.0549],[-.2658,-.0366],[-.245,-.0366],[-.2463,-.0169],[-.2582,.0113],[-.2555,.0218],[-.2565,-.0063],[-.2456,.0725],[-.2383,.0761],[-.2331,.0711],[-.2367,.062],[-.1993,.1021],[-.1937,.0782],[-.2003,.05],[-.201,.043],[-.2235,.0324],[-.2185,.0324],[-.202,.0197],[-.2377,-.0254],[-.2202,.0077],[-.1881,.0254],[-.1656,.0289],[-.1779,-.0979],[-.1567,-.0873],[-.1127,-.1965],[-.1349,-.0592],[-.0906,-.0979],[-.0797,-.0873],[-.0476,-.0944]];
const cBurly: Pt[] = [[-.2291,.0556],[-.2949,.0092],[-.2417,-.0028],[-.2185,.0113],[-.1755,-.0028],[-.2053,.0254],[-.1524,-.0451],[-.0879,-.0803],[-.0707,-.0803],[-.0301,-.0697]];
const cEllipses: Pt[] = [[.2916,.0648,.0628,-.037,.071],[.241,.0556,.0926,-.023,.078],[.1564,.0739,.088,-.025,.065],[.0622,-.0014,.0913,-.0317,.092],[.0028,-.031,.0964,-.016,.072],[-.0505,-.0556,.0926,-.035,.069],[-.1045,-.0275,.0925,-.032,.0625],[-.1094,-.0415,.0794,-.0458,.03],[-.1566,-.015,.0703,-.037,.054],[-.2028,.0007,.0438,-.03,.034],[-.2272,.0099,.0368,0,.0225]];

// ---------- panel d ----------
const dCoral: Pt[] = [[.4012,.1282],[.3509,.0945],[.3659,.0871],[.3176,.1],[.3565,.0552],[.1571,.084],[.2559,.0448],[.2671,-.0368],[.4012,.0117],[.3682,-.062],[.0938,-.062],[.2485,-.1337],[.2588,-.1153],[.3262,-.1092],[.3047,-.1589],[.3103,-.1595],[.3379,-.154],[.3456,-.1472],[.3179,-.1834],[.3179,-.2055],[.2856,-.2104],[.2635,-.238],[.2671,-.2509],[.2015,-.2693],[.2088,-.1951],[.2091,-.2104],[.1635,-.1687],[.1806,-.1399],[.1906,-.111],[.24,-.0706]];
const dGreen: Pt[] = [[.3974,.1982],[.3953,.0307],[.3559,-.0233],[.3635,-.0264],[.3415,-.0804],[.3456,-.0785],[.3597,-.1074],[.3606,-.1454],[.3385,.0748],[.305,.0607],[.2168,.0957],[.1988,.0564],[.1538,.0239],[.1406,-.0031],[.2515,-.0104],[.1906,-.0773],[.2374,-.0706],[.2726,-.1497],[.1803,-.1491],[.1124,-.1417],[.2106,-.2043],[.2385,-.2417],[.0906,.0135],[-.2082,.0196],[-.0529,-.0681],[-.0476,-.0969]];
const dGold: Pt[] = [[.4329,-.0442],[.4088,.0153],[.4035,.1037],[.315,-.1074],[.2762,-.1454],[.2656,-.2166],[.2353,-.1822],[.1797,-.2018],[.1406,-.219],[.0962,-.2092],[.2482,.1178],[.2171,.1178],[.1597,.108],[.2121,.0712],[.24,.0387],[.2353,-.0086],[.2094,-.0276],[.2121,-.0583],[.2459,-.0933],[.2371,-.0779],[.1782,-.0853],[.1747,-.0988],[.1576,-.0264],[.1018,-.0847],[.1053,-.1043],[.0812,-.0663],[.095,-.011],[.0738,-.0006],[.0591,-.0865],[.0862,.0853],[.0597,.1319],[.0485,-.2577],[.02,-.1589],[-.0103,-.1828],[.0537,-.1632],[.047,-.089],[-.0323,-.1767],[-.0417,-.1908],[-.0637,-.2031],[-.0584,-.1356],[-.0573,-.1172],[-.0438,-.1025],[-.1063,-.0417],[-.1034,-.0429],[.0088,-.0245],[.0132,-.0264],[-.1642,-.1202]];
const dDodger: Pt[] = [[.2953,.3558],[.3494,.1871],[.3379,.1294],[.1656,.0902],[.205,.0982],[.1432,.0607],[.0876,.1252],[.2832,.0497],[.1868,.046],[.2662,.0012],[.22,-.0264],[.2165,-.0485],[.2838,-.0742],[.2674,-.1006],[.2774,-.1037],[.2391,-.111],[.1756,-.0773],[.1244,-.0755],[.1179,-.0509],[.1029,.0166],[.0706,-.0092],[.1785,-.1785],[.1662,-.1871],[.1112,-.189],[-.0362,-.2018],[-.0444,-.2104],[.0141,-.1172],[.0543,-.146],[.0003,-.0571],[-.0073,-.0497],[-.0352,-.054],[-.0449,-.0706],[-.0491,-.0755],[-.0035,.0086],[.0003,-.0049],[-.0094,.0546],[-.035,.1209],[-.0573,.1055],[-.072,.127],[.039,.1037],[.0302,-.0172],[.0179,.0626],[-.0535,-.008],[-.0594,.0092],[-.0226,.0227],[-.1093,.0853],[-.168,-.1092],[-.165,-.0558],[-.1504,.0319]];
const dRed: Pt[] = [[.2729,.3718],[.3288,.3325],[.1615,.2135],[.1847,.1963],[.2485,.1399],[.1356,.1],[.0635,.1196],[.0953,.0791],[.2803,.0264],[.1394,.016],[.1247,-.038],[.2482,-.0607],[.2612,-.0638],[.2159,-.0834],[.3253,-.0908],[.1053,-.1325],[.0994,-.1718],[.0597,.027],[-.0394,.1853],[.0273,.1988],[-.1048,.111],[-.0946,.092],[-.0819,.0975],[-.0188,.1252],[.0385,.1178],[.042,.0951],[-.035,.0644],[.0361,.0534],[.042,.0644],[.0282,.0288],[-.0682,.0472],[-.0637,.0442],[-.0623,.0258],[-.0602,.0196],[-.0843,.0104],[-.1048,.0564],[-.1636,.0104],[-.1906,.0331],[-.1797,-.0276],[-.1777,-.0387],[-.1915,-.0344],[-.1304,-.0141],[-.1304,-.0325],[-.2023,-.0583],[-.1994,-.0767],[-.2126,-.0847],[-.168,-.0896],[-.1107,-.0767],[-.0822,-.0448],[-.0764,-.0356],[-.0485,-.116],[-.0473,-.0847],[-.027,-.0528]];
const dPink: Pt[] = [[.2747,.3509],[.1762,.1791],[.1326,.1454],[.0762,.1337],[.1124,.1166],[.2894,.0871],[.3674,.081],[.0562,.0994],[.0082,.1736],[.0314,.1834],[.0288,.1178],[-.0682,.1307],[-.0138,.1282],[-.1181,.0914],[-.1424,.0914],[-.1709,.0613],[-.1621,.0546],[-.1665,.0399],[-.1703,.0092],[-.1445,.0117],[-.1157,.0595],[-.0916,-.0681],[-.1565,-.1325],[-.1327,-.0202],[-.1518,-.0374],[-.1959,-.0644],[-.2379,-.0865],[-.074,-.0252],[-.0485,.0736],[-.0432,.0748],[-.0147,.0564],[.0021,.0337],[-.05,.0153],[.0493,.0748]];
const dGray: Pt[] = [[.1032,.1632],[.0771,.1074],[.0888,.1074],[.1218,.0675],[.1768,-.1791],[.0562,.1847],[-.1357,.1564],[-.0021,.2031],[.0209,.1718],[.0429,.1589],[-.121,.0994],[-.1172,.0791],[-.1753,.0607],[-.2185,.035],[-.2496,-.019],[-.2223,-.0859],[-.2018,-.0252],[-.2091,-.0479],[-.1518,-.0632],[-.1216,-.0969],[-.1289,-.1411],[.0332,-.2816],[-.0394,.0104],[-.0314,-.008],[-.1621,-.0018],[-.168,-.0018],[-.1054,.0791],[-.0643,.0779],[-.0035,.0607],[.0097,.0503],[.0311,.0607]];
const dLime: Pt[] = [[.1574,.2902],[.205,.2718],[.0576,.1448],[-.2787,-.0202],[-.2614,-.0982],[-.2349,-.0497],[-.2194,-.0221],[-.215,-.1153],[-.2097,-.0939],[-.2135,-.0448],[-.1988,.0043],[-.189,.0736],[-.1709,.081],[-.1583,.081],[-.1533,.1025],[-.1465,.0748],[-.1157,.1221],[-.1101,.116],[-.1777,-.0558],[-.1774,.0276],[-.1327,.0104],[-.1225,.0485],[-.1216,-.0479],[-.0975,.0656],[-.0969,-.0233],[-.049,-.0399],[-.0902,.027],[-.0631,-.0006],[-.0314,-.1589],[.0038,.1595],[.0405,.0215],[-.0785,.0963],[-.0212,.0963],[-.143,.0288],[-.1724,-.0202]];
const dBlue: Pt[] = [[.1215,.1497],[.3679,.1466],[-.1048,.1368],[-.1057,.1233],[-.0529,.1393],[-.0488,.1515],[-.0103,.1301],[.0235,.1282],[.0326,.0914],[-.1386,.0644],[-.1283,.0791],[-.1891,.0429],[-.2018,.03],[-.2012,.0123],[-.1821,.0209],[-.2488,-.0245],[-.2347,-.0307],[-.2106,-.016],[-.2103,-.0399],[-.2194,-.0546],[-.2129,-.0583],[-.207,-.0583],[-.2444,-.0693],[-.2411,-.089],[-.2282,-.089],[-.2488,-.1061],[-.2053,-.0804],[-.1968,-.089],[-.1974,-.0374],[-.1753,-.0902],[-.1562,-.0816],[-.0925,-.1282],[-.0643,-.0675],[-.1054,.0411],[-.0646,.0546],[-.1225,.0012],[-.1166,-.0061],[-.1107,-.0405],[-.0793,-.011],[-.077,.0337],[-.1034,-.0172],[-.1709,-.0436],[-.1642,-.0436],[-.1577,-.0399],[-.0608,.0092]];
const dBurly: Pt[] = [[.2259,.1135],[.0688,.0865],[.09,.0607],[-.0144,.1442],[-.03,.1245],[-.0893,.1086],[-.094,.0982],[-.0893,.0779],[.0018,.1178],[-.1454,.0859],[-.1636,.0503],[-.2141,.0258],[-.2129,.0074],[-.2076,.0074],[-.1997,-.0049],[-.1953,-.0031],[-.1877,.0074],[-.2018,-.0448],[-.1944,-.0583],[-.1856,-.0436],[-.2179,-.062],[-.168,-.0632],[-.151,-.0877],[-.1539,.0012],[-.1518,-.0374],[-.0843,-.0325],[-.0799,.038],[-.0505,-.0681],[-.027,.0933],[.0082,.0902],[.0214,.0031]];
const dEllipses: Pt[] = [[.2674,-.0896,.0644,.018,.08],[.2069,-.0429,.1131,.006,.068],[.1076,-.0669,.1,.014,.068],[.0698,-.0098,.0977,.009,.072],[.009,.0294,.1007,.034,.066],[-.0373,.0613,.094,.0414,.044],[-.0858,.0196,.069,.0215,.056],[-.121,.0288,.0661,.04,.04],[-.1242,.0031,.0737,.0353,.035],[-.1039,.0245,.07,.029,.038]];

const xTicksA = [-0.045, -0.03, -0.015, 0, 0.015, 0.03, 0.045, 0.06];
const yTicksA = [-0.1, -0.05, 0, 0.05, 0.1, 0.15, 0.2];
const xTicksB = [-0.06, -0.04, -0.02, 0, 0.02, 0.04, 0.06, 0.08];
const yTicksB = [-0.2, -0.15, -0.1, -0.05, 0, 0.05, 0.1, 0.15, 0.2];
const xTicksC = [-0.4, -0.3, -0.2, -0.1, 0, 0.1, 0.2, 0.3, 0.4, 0.5];
const yTicksC = [-0.5, -0.4, -0.3, -0.2, -0.1, 0, 0.1, 0.2, 0.3];
const xTicksD = [-0.3, -0.2, -0.1, 0, 0.1, 0.2, 0.3, 0.4, 0.5];
const yTicksD = [-0.3, -0.2, -0.1, 0, 0.1, 0.2, 0.3, 0.4];

const FONT = '"Liberation Sans", Arial, sans-serif';
const Y_W = 110;
const X_H = 70;

function Txt({ x, y, size, color, bold, rotate, children }: any) {
  return (
    <div style={{
      position: 'absolute', left: x, top: y, fontFamily: FONT, fontSize: size, color, fontWeight: bold ? 700 : 400,
      whiteSpace: 'nowrap', lineHeight: 1, transform: `translate(-50%,-50%)${rotate ? ' rotate(-90deg)' : ''}`,
    }}>{children}</div>
  );
}

function Panel({ left, top, width, height, xDomain, yDomain, xTicks, yTicks, xDec, yDec, series, ellipses, colors, axisColor }: any) {
  const pxX = width / (xDomain[1] - xDomain[0]);
  const pxY = height / (yDomain[1] - yDomain[0]);
  const ellipseData = ellipses.map((e: Pt, i: number) => ({ x: e[0], y: e[1], ax: e[2], ay: e[3], b: e[4], color: colors[series[i].group] }));
  const ellipseShape = (p: any) => {
    const d = p.payload;
    const rx = Math.hypot(d.ax * pxX, d.ay * pxY);
    const angle = (Math.atan2(-d.ay * pxY, d.ax * pxX) * 180) / Math.PI;
    return (
      <ellipse cx={p.cx} cy={p.cy} rx={rx} ry={d.b * pxY} transform={`rotate(${angle} ${p.cx} ${p.cy})`}
        fill={d.color} fillOpacity={0.26} stroke={d.color} strokeWidth={4.2} />
    );
  };
  const tickStyle = { fontSize: 36.5, fontFamily: FONT, fill: '#1c1c1c' };
  const line = { stroke: axisColor, strokeWidth: 4 };
  return (
    <ScatterChart
      width={1720} height={top + height + X_H}
      margin={{ left: left - Y_W, top, right: 1720 - left - width, bottom: 0 }}
      style={{ position: 'absolute', left: 0, top: 0 }}
    >
      <XAxis type="number" dataKey="x" domain={xDomain} ticks={xTicks} allowDataOverflow height={X_H} interval={0}
        tick={tickStyle} tickSize={16} tickMargin={7} axisLine={line} tickLine={line}
        tickFormatter={(v: number) => v.toFixed(xDec)} />
      <YAxis type="number" dataKey="y" domain={yDomain} ticks={yTicks} allowDataOverflow width={Y_W} interval={0}
        tick={tickStyle} tickSize={16} tickMargin={3} axisLine={line} tickLine={line}
        tickFormatter={(v: number) => v.toFixed(yDec)} />
      <ReferenceArea x1={xDomain[0]} x2={xDomain[1]} y1={yDomain[0]} y2={yDomain[1]} fill="none" stroke={axisColor} strokeWidth={4} />
      <Scatter data={ellipseData} shape={ellipseShape} isAnimationActive={false} />
      {series.map((s: any) => (
        <Scatter key={s.group} data={s.pts.map((q: Pt) => ({ x: q[0], y: q[1] }))} fill={colors[s.group]} isAnimationActive={false}
          shape={(p: any) => <circle cx={p.cx} cy={p.cy} r={3.5} fill={colors[s.group]} />} />
      ))}
    </ScatterChart>
  );
}

function TitleBox({ x, y, w, h, children }: any) {
  return (
    <div style={{
      position: 'absolute', left: x, top: y, width: w, height: h, boxSizing: 'border-box', border: '4px solid #333', background: '#fff',
      fontFamily: FONT, fontSize: 31, color: '#666', display: 'flex', alignItems: 'center', justifyContent: 'center', whiteSpace: 'nowrap',
    }}>{children}</div>
  );
}

function LegendTable({ x, y, first, colors, headerH }: any) {
  const rowH = 40.7;
  const names = groupNames.slice(first);
  const cols = colorNames.slice(first);
  const cells = colors.slice(first);
  const head = { position: 'absolute', top: 0, height: headerH, lineHeight: `${headerH}px`, fontWeight: 700, fontFamily: FONT, fontSize: 26, color: '#222',
    background: 'linear-gradient(#fff,#eee)', borderBottom: '2px solid #ccc', boxSizing: 'border-box' } as any;
  return (
    <div style={{ position: 'absolute', left: x, top: y, width: 400, height: headerH + rowH * names.length }}>
      <div style={{ ...head, left: 0, width: 203, paddingLeft: 5 }}>Group</div>
      <div style={{ ...head, left: 205, width: 195, paddingLeft: 4 }}>Color</div>
      {names.map((n: string, i: number) => (
        <React.Fragment key={n}>
          <div style={{ position: 'absolute', left: 0, top: headerH + i * rowH, width: 203, height: rowH - 1, lineHeight: `${rowH - 1}px`, paddingLeft: 5, boxSizing: 'border-box',
            fontFamily: FONT, fontWeight: 700, fontSize: 28, color: '#222', background: 'linear-gradient(#fff,#f0f0f0)', borderBottom: '2px solid #ccc' }}>{n}</div>
          <div style={{ position: 'absolute', left: 205, top: headerH + i * rowH, width: 195, height: rowH - 1, lineHeight: `${rowH - 1}px`, paddingLeft: 4, boxSizing: 'border-box',
            fontFamily: FONT, fontSize: 27.3, color: 'rgba(10,10,20,0.72)', background: cells[i] }}>{cols[i]}</div>
        </React.Fragment>
      ))}
    </div>
  );
}

const order = [0, 1, 2, 3, 4, 5, 6, 7, 8, 9, 10];
const withGroups = (arrs: Pt[][], groups: number[]) => arrs.map((pts, i) => ({ group: groups[i], pts }));

const seriesA = withGroups([aAqua, aCoral, aGreen, aGold, aDodger, aRed, aPink, aGray, aLime, aBlue, aBurly], order);
const seriesB = withGroups([bAqua, bCoral, bGreen, bGold, bDodger, bRed, bPink, bGray, bLime, bBlue, bBurly], order);
const seriesC = withGroups([cAqua, cCoral, cGreen, cGold, cDodger, cRed, cPink, cGray, cLime, cBlue, cBurly], order);
const seriesD = withGroups([dCoral, dGreen, dGold, dDodger, dRed, dPink, dGray, dLime, dBlue, dBurly], order.slice(1));

export default function App() {
  const gray = '#777';
  const dark = '#1c1c1c';
  return (
    <div style={{ position: 'absolute', left: 0, top: 0, width: 2120, height: 2694, background: '#fff', overflow: 'hidden' }}>
      <Panel left={193} top={60} width={1475} height={491} xDomain={[-0.05, 0.07]} yDomain={[-0.1, 0.2]} xTicks={xTicksA} yTicks={yTicksA}
        xDec={3} yDec={2} series={seriesA} ellipses={aEllipses} colors={mutedColors} axisColor="#2a2a2a" />
      <div style={{ position: 'absolute', left: 0, top: 687 }}>
        <Panel left={200} top={35} width={1476} height={492} xDomain={[-0.08, 0.1]} yDomain={[-0.2, 0.2]} xTicks={xTicksB} yTicks={yTicksB}
          xDec={2} yDec={2} series={seriesB} ellipses={bEllipses} colors={mutedColors} axisColor="#2a2a2a" />
      </div>
      <div style={{ position: 'absolute', left: 0, top: 1351 }}>
        <Panel left={201} top={35} width={1475} height={492} xDomain={[-0.4, 0.5]} yDomain={[-0.5, 0.3]} xTicks={xTicksC} yTicks={yTicksC}
          xDec={1} yDec={1} series={seriesC} ellipses={cEllipses} colors={mutedColors} axisColor="#2a2a2a" />
      </div>
      <div style={{ position: 'absolute', left: 0, top: 2055 }}>
        <Panel left={193} top={35} width={1475} height={492} xDomain={[-0.3, 0.5]} yDomain={[-0.3, 0.4]} xTicks={xTicksD} yTicks={yTicksD}
          xDec={1} yDec={1} series={seriesD} ellipses={dEllipses} colors={pureColors} axisColor="#000" />
      </div>

      <Txt x={14} y={29} size={29} color="#111" bold>a</Txt>
      <TitleBox x={191} y={1} w={349} h={54}>Day 1+15+85 combined</TitleBox>
      <Txt x={57} y={306} size={37} color={dark} rotate>Coordinate 2</Txt>
      <Txt x={57} y={540} size={30} color={gray} rotate>(4.3% + 15.4 EV)</Txt>
      <Txt x={692} y={641} size={30} color={gray}>(14% + 49.7 EV)</Txt>
      <Txt x={929} y={647} size={37} color={dark}>Coordinate 1</Txt>

      <Txt x={14} y={694} size={29} color="#111" bold>b</Txt>
      <TitleBox x={198} y={662} w={102} h={56}>Day 1</TitleBox>
      <Txt x={65} y={968} size={37} color={dark} rotate>Coordinate 2</Txt>
      <Txt x={65} y={1201} size={30} color={gray} rotate>(4.8% + 5.6 EV)</Txt>
      <Txt x={714} y={1308} size={30} color={gray}>(17.5% + 20 EV)</Txt>
      <Txt x={937} y={1309} size={37} color={dark}>Coordinate 1</Txt>

      <Txt x={14} y={1365} size={29} color="#111" bold>c</Txt>
      <TitleBox x={203} y={1328} w={120} h={56}>Day 15</TitleBox>
      <Txt x={65} y={1631} size={37} color={dark} rotate>Coordinate 2</Txt>
      <Txt x={65} y={1865} size={30} color={gray} rotate>(6.1% + 5.3 EV)</Txt>
      <Txt x={698} y={1971} size={30} color={gray}>(18% + 15.6 EV)</Txt>
      <Txt x={936} y={1973} size={37} color={dark}>Coordinate 1</Txt>

      <Txt x={14} y={2063} size={29} color="#111" bold>d</Txt>
      <TitleBox x={188} y={2034} w={119} h={55}>Day 85</TitleBox>
      <Txt x={57} y={2335} size={37} color={dark} rotate>Coordinate 2</Txt>
      <Txt x={57} y={2575} size={30} color={gray} rotate>(5.5% + 4.7 EV)</Txt>
      <Txt x={698} y={2678} size={30} color={gray}>(16% + 13.9 EV)</Txt>
      <Txt x={928} y={2678} size={37} color={dark}>Coordinate 1</Txt>

      <LegendTable x={1710} y={68} first={0} colors={mutedColors} headerH={36} />
      <LegendTable x={1710} y={755} first={0} colors={mutedColors} headerH={36} />
      <LegendTable x={1720} y={1394} first={0} colors={mutedColors} headerH={36} />
      <LegendTable x={1706} y={2140} first={1} colors={pureColors} headerH={42} />
    </div>
  );
}
